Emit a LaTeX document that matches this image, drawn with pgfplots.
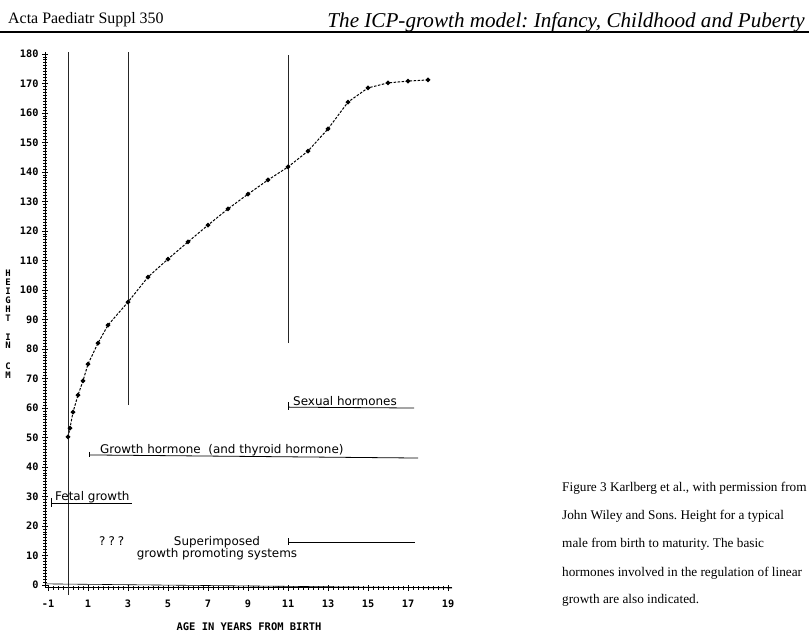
\documentclass[border=0pt]{standalone}
\usepackage{pgfplots}
\pgfplotsset{compat=1.18}
\usepackage{fontspec}
\setmainfont{Liberation Serif}
\newfontfamily\plotfont{DejaVu Sans Mono}
\newfontfamily\annfont{DejaVu Sans}
\frenchspacing
\begin{document}
\begin{tikzpicture}
\path[use as bounding box] (0,0) rectangle (809bp,634bp);
\begin{axis}[
  at={(45bp,46bp)}, anchor=south west,
  scale only axis, width=407bp, height=535.5bp,
  xmin=-1.15, xmax=19.2, ymin=-1, ymax=180.5,
  axis lines=left, axis line style={-, line width=1bp},
  clip=false,
  xtick={-1,1,...,19}, ytick={0,10,...,180},
  minor x tick num=7, minor y tick num=9,
  tick align=center, major tick length=6bp, minor tick length=3.5bp,
  tick style={line width=0.8bp, black},
  ticklabel style={font=\plotfont\bfseries\fontsize{10.3}{11}\selectfont},
  xticklabel style={yshift=-5bp},
  /pgf/number format/assume math mode=true,
]
% growth curve
\addplot[black, line width=1bp, dash pattern=on 2.5bp off 1.5bp,
  mark=*, mark size=1.8bp, mark options={solid}] coordinates {
  (0,50.2) (0.1,53.2) (0.25,58.6) (0.5,64.4) (0.75,69.2) (1,74.9)
  (1.5,82.0) (2,88.1) (3,95.9) (4,104.4) (5,110.5) (6,116.3)
  (7,122.0) (8,127.5) (9,132.5) (10,137.3) (11,141.7) (12,147.1)
  (13,154.6) (14,163.7) (15,168.5) (16,170.2) (17,170.8) (18,171.2)};
% vertical lines
\addplot[black!85, line width=1bp] coordinates {(0,-3.4) (0,180.5)};
\addplot[black!85, line width=1bp] coordinates {(3,61) (3,180.5)};
\addplot[black!85, line width=1bp] coordinates {(11,82) (11,179.5)};
% extra baseline stroke
\addplot[black, line width=0.6bp] coordinates {(-1.15,0.4) (19.2,-1.0)};
% brackets
\addplot[black, line width=0.8bp] coordinates {(-0.85,27.7) (3.2,27.7)};
\addplot[black, line width=0.8bp] coordinates {(-0.85,29.5) (-0.85,26.4)};
\addplot[black, line width=0.8bp] coordinates {(1.07,44.1) (17.5,43.05)};
\addplot[black, line width=0.8bp] coordinates {(1.07,45.1) (1.07,43.4)};
\addplot[black, line width=0.8bp] coordinates {(11,60.3) (17.3,60.0)};
\addplot[black, line width=0.8bp] coordinates {(11,62.0) (11,59.3)};
\addplot[black, line width=0.8bp] coordinates {(11,14.6) (17.35,14.6)};
\addplot[black, line width=0.8bp] coordinates {(11,15.9) (11,13.6)};
% annotations
\begin{scope}[every node/.style={font=\annfont\fontsize{12}{12}\selectfont, inner sep=0pt}]
\node[anchor=base west] at (axis cs:-0.65,28.5) {Fetal growth};
\node[anchor=base west] at (axis cs:1.6,44.7) {Growth hormone\ \ (and thyroid hormone)};
\node[anchor=base west] at (axis cs:11.25,61.0) {Sexual hormones};
\node[anchor=base west] at (axis cs:1.55,13.56) {?\hspace{3bp}?\hspace{3bp}?};
\node[anchor=base] at (axis cs:7.45,13.56) {Superimposed};
\node[anchor=base] at (axis cs:7.45,9.5) {growth promoting systems};
\end{scope}
\node[anchor=base, inner sep=0pt, font=\plotfont\bfseries\fontsize{10.5}{11}\selectfont] at (axis cs:9.05,-15.25) {AGE IN YEARS FROM BIRTH};
\end{axis}
\begin{scope}[x=1bp,y=1bp]
\foreach \l/\py in {H/273,E/282,I/291,G/300,H/309,T/318,I/337,N/345,C/366,M/375}
  \node[inner sep=0pt, font=\plotfont\bfseries\fontsize{9}{9}\selectfont] at (8,634-\py) {\l};
\node[anchor=base west, inner sep=0pt, font=\fontsize{16}{16}\selectfont] at (8,610) {Acta Paediatr Suppl 350};
\node[anchor=base east, inner sep=0pt, font=\itshape\fontsize{21.2}{21}\selectfont] at (805,606) {The ICP-growth model: Infancy, Childhood and Puberty};
\draw[line width=1.6bp] (0,602) -- (809,602);
\begin{scope}[every node/.style={anchor=base west, inner sep=0pt, font=\fontsize{13.3}{14}\selectfont}]
\node at (562,143) {Figure 3 Karlberg et al., with permission from};
\node at (562,115) {John Wiley and Sons. Height for a typical};
\node at (562,87) {male from birth to maturity. The basic};
\node at (562,58) {hormones involved in the regulation of linear};
\node at (562,31) {growth are also indicated.};
\end{scope}
\end{scope}
\end{tikzpicture}
\end{document}
